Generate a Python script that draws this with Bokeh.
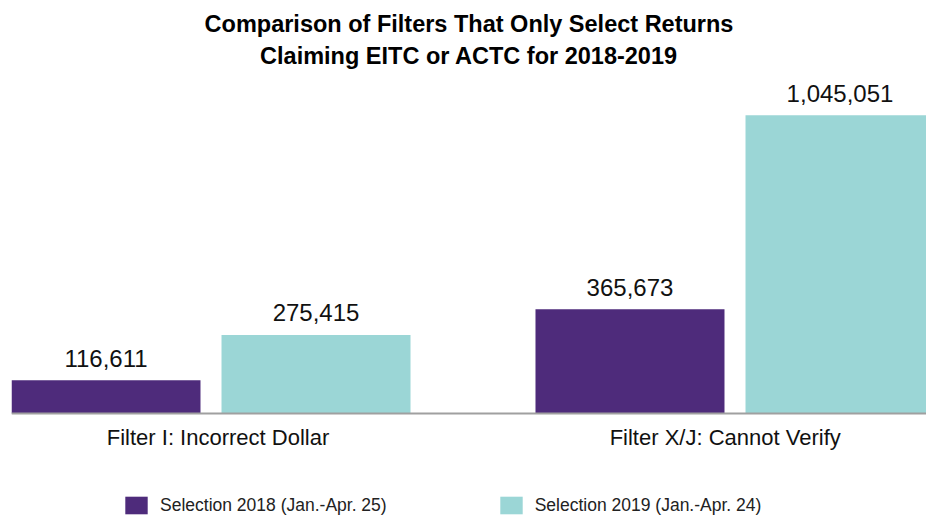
import numpy as np
from bokeh.plotting import figure
from bokeh.models import (ColumnDataSource, Range1d, FixedTicker, Title, Legend, LegendItem)
from bokeh.embed import file_html
from bokeh.resources import INLINE
from bokeh.core.properties import value

# ---- data ----
categories = ["Filter I: Incorrect Dollar", "Filter X/J: Cannot Verify"]
series = ["Selection 2018 (Jan.-Apr. 25)", "Selection 2019 (Jan.-Apr. 24)"]
values_2018 = [116611, 365673]
values_2019 = [275415, 1045051]
colors = ["#4e2b7b", "#9bd6d6"]
title_lines = ["Comparison of Filters That Only Select Returns",
               "Claiming EITC or ACTC for 2018-2019"]

# ---- layout constants ----
centers = np.arange(len(categories)) + 0.5
offset = 0.2004
bar_w = 0.3607
label_shift = np.array([0.0134, -0.0187])
TITLE_FONT = "Liberation Sans"

p = figure(width=926, height=516, output_backend="svg", toolbar_location=None,
           x_range=Range1d(0.11927, 1.86546), y_range=Range1d(-361025, 1167198),
           min_border_left=11, min_border_right=0, min_border_top=80,
           min_border_bottom=0)

renderers = []
for i, vals in enumerate([values_2018, values_2019]):
    xs = centers + (-offset if i == 0 else offset)
    src = ColumnDataSource(dict(x=xs, top=vals,
                                label=[f"{v:,}" for v in vals]))
    r = p.vbar(x="x", top="top", bottom=0, width=bar_w, source=src,
               fill_color=colors[i], line_color=None)
    renderers.append(r)
    p.text(x="x", y="top", text="label", source=src, text_align="center",
           text_baseline="alphabetic", y_offset=-22,
           text_font=value("Liberation Sans"), text_font_size="24px",
           text_color="#111111")

# axes
p.yaxis.visible = False
p.xgrid.visible = False
p.ygrid.visible = False
p.outline_line_color = None
xa = p.xaxis[0]
xa.fixed_location = 0
ticks = list(centers + label_shift)
xa.ticker = FixedTicker(ticks=ticks)
xa.major_label_overrides = {float(t): cat for t, cat in zip(ticks, categories)}
xa.major_tick_line_color = None
xa.minor_tick_line_color = None
xa.axis_line_color = "#a0a0a0"
xa.axis_line_width = 2
xa.major_label_text_font = "Liberation Sans"
xa.major_label_text_font_size = "22px"
xa.major_label_text_color = "#111111"
xa.major_label_standoff = 5

# titles
p.title.text = title_lines[0]
p.title.align = "center"
p.title.text_font = TITLE_FONT
p.title.text_font_size = "23.5px"
p.title.text_font_style = "bold"
p.title.text_color = "#000000"
p.title.standoff = -16
t2 = Title(text=title_lines[1], align="center", text_font=TITLE_FONT,
           text_font_size="23.5px", text_font_style="bold", text_color="#000000",
           standoff=24)
p.add_layout(t2, "above")

# legend
legend = Legend(items=[LegendItem(label=s, renderers=[r]) for s, r in zip(series, renderers)],
                location=(111, 0), orientation="horizontal",
                glyph_width=28, glyph_height=22, label_standoff=10, spacing=110,
                padding=0, margin=0, border_line_color=None,
                background_fill_alpha=0, label_text_font="Liberation Sans",
                label_text_font_size="17.5px", label_text_color="#222222")
p.add_layout(legend, "center")

open("out.html", "w").write(file_html(p, INLINE))
